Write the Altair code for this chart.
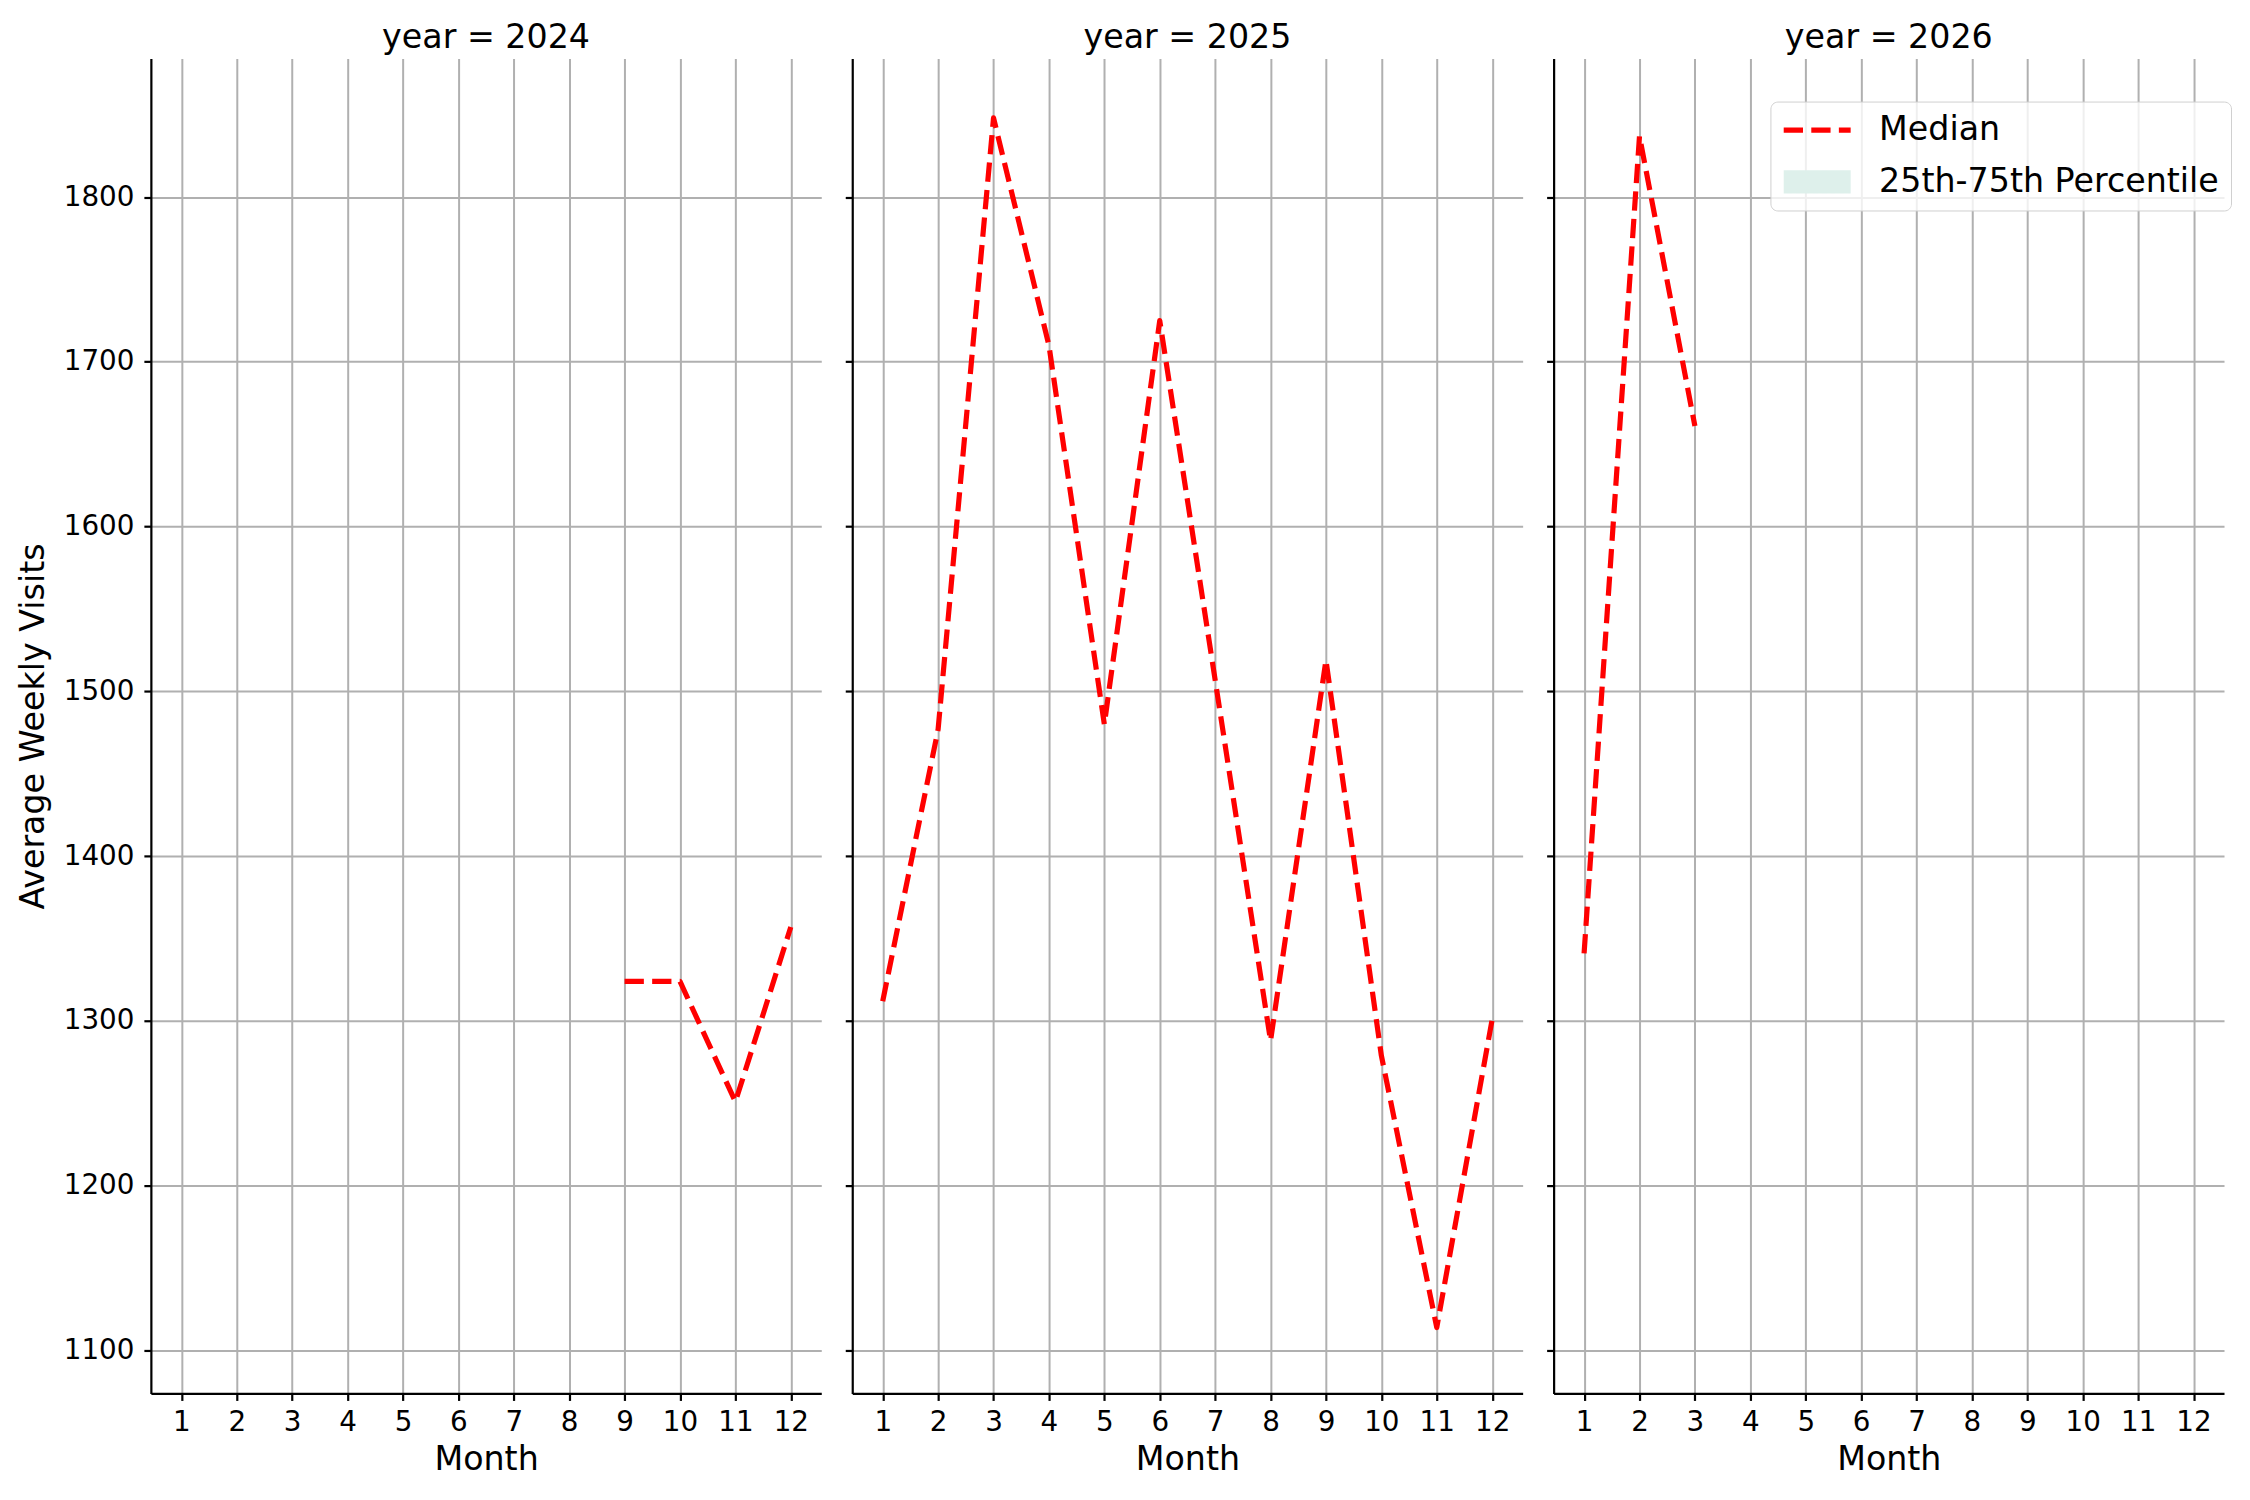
import altair as alt
import pandas as pd

# ---- data ----
years = [2024, 2025, 2026]
months_2024 = [9, 10, 11, 12]
median_2024 = [1324, 1324, 1251, 1357]
months_2025 = [1, 2, 3, 4, 5, 6, 7, 8, 9, 10, 11, 12]
median_2025 = [1312, 1477, 1848, 1710, 1480, 1725, 1507, 1288, 1519, 1279, 1114, 1301]
months_2026 = [1, 2, 3]
median_2026 = [1341, 1837, 1661]

month_ticks = [1, 2, 3, 4, 5, 6, 7, 8, 9, 10, 11, 12]
visit_ticks = [1100, 1200, 1300, 1400, 1500, 1600, 1700, 1800]
legend_labels = ["Median", "25th-75th Percentile"]

FONT = "DejaVu Sans"
RED = "#ff0000"
BAND = "#def0eb"
DASH = [19.3, 8.3]
LW = 5.2

series = {
    2024: (months_2024, median_2024),
    2025: (months_2025, median_2025),
    2026: (months_2026, median_2026),
}


def panel(year, first, last):
    months, values = series[year]
    df = pd.DataFrame({"month": months, "visits": values, "series": ["Median"] * len(months)})
    x = alt.X(
        "month:Q",
        scale=alt.Scale(domain=[0.45, 12.55], nice=False, zero=False),
        axis=alt.Axis(values=month_ticks, format="d", title="Month", grid=True),
    )
    if first:
        yaxis = alt.Axis(values=visit_ticks, format="d", title="Average Weekly Visits", grid=True)
    else:
        yaxis = alt.Axis(values=visit_ticks, labels=False, title=None, grid=True)
    y = alt.Y(
        "visits:Q",
        scale=alt.Scale(domain=[1074, 1884], nice=False, zero=False),
        axis=yaxis,
    )
    base = alt.Chart(df).encode(x=x, y=y)
    if last:
        legend = alt.Legend(
            title=None,
            orient="none",
            legendX=217,
            legendY=43,
            labelFont=FONT,
            labelFontSize=33.3,
            labelColor="black",
            labelLimit=600,
            symbolType="M-6.7,0H6.7",
            symbolSize=100,
            symbolOffset=17.8,
            labelOffset=45,
            padding=12,
            rowPadding=16.7,
            clipHeight=33.3,
            strokeColor="#d0d0d0",
            fillColor="rgba(255,255,255,0.8)",
            cornerRadius=7,
        )
        line = base.mark_line(strokeCap="butt", strokeJoin="round").encode(
            color=alt.Color("series:N", scale=alt.Scale(domain=legend_labels, range=[RED, BAND]), legend=legend),
            strokeDash=alt.StrokeDash(
                "series:N", scale=alt.Scale(domain=legend_labels, range=[DASH, [1, 0]]), legend=legend
            ),
            strokeWidth=alt.StrokeWidth(
                "series:N", scale=alt.Scale(type="ordinal", domain=legend_labels, range=[LW, 23.3]), legend=legend
            ),
        )
    else:
        line = base.mark_line(
            color=RED, strokeWidth=LW, strokeDash=DASH, strokeCap="butt", strokeJoin="round"
        )

    return line.properties(
        width=671,
        height=1336,
        title=alt.TitleParams(
            text=f"year = {year}",
            font=FONT,
            fontSize=33.3,
            fontWeight="normal",
            color="black",
            anchor="middle",
            frame="group",
            offset=3,
        ),
    )


chart = (
    alt.hconcat(panel(2024, True, False), panel(2025, False, False), panel(2026, False, True), spacing=22)
    .resolve_scale(color="independent", strokeDash="independent", strokeWidth="independent")
    .resolve_legend(color="independent", strokeDash="independent", strokeWidth="independent")
    .properties(padding={"left": 8, "top": 12, "right": 10, "bottom": 10}, background="white")
    .configure_view(stroke=None)
    .configure_axis(
        domainColor="black",
        domainWidth=2.2,
        tickColor="black",
        tickWidth=2.2,
        tickSize=7,
        gridColor="#b0b0b0",
        gridWidth=2,
        labelFont=FONT,
        labelFontSize=27.8,
        labelColor="black",
        titleFont=FONT,
        titleFontSize=33.3,
        titleFontWeight="normal",
        titleColor="black",
    )
    .configure_axisX(labelPadding=8, titlePadding=7, labelFlush=False)
    .configure_axisY(labelPadding=10, titlePadding=13)
)

chart.save("out.html", embed_options={"renderer": "svg", "actions": False})
